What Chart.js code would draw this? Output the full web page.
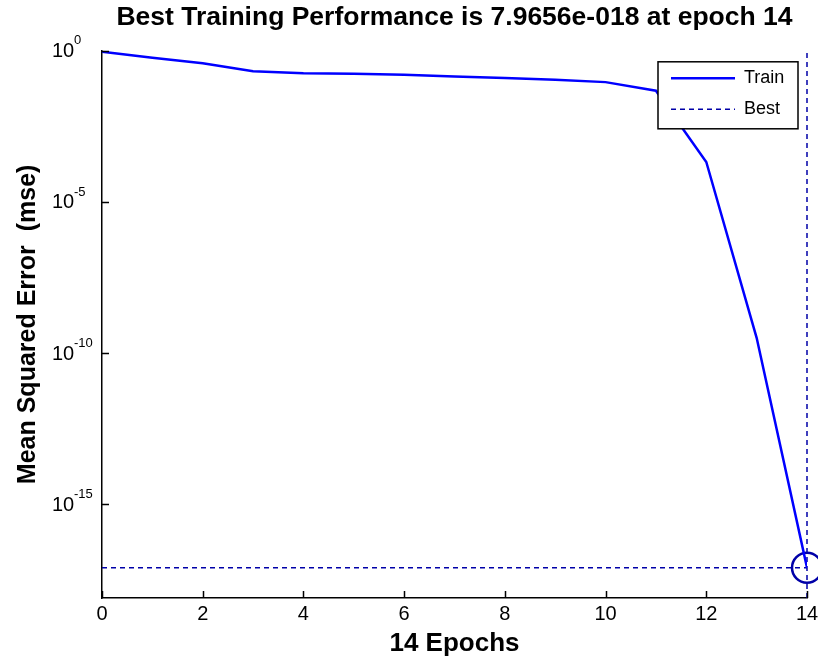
<!DOCTYPE html>
<html>
<head>
<meta charset="utf-8">
<script src="https://cdn.jsdelivr.net/npm/chart.js@4.4.1/dist/chart.umd.min.js"></script>
<style>
  html, body { margin: 0; padding: 0; background: #fff; }
  #wrap { width: 818px; height: 657px; }
</style>
</head>
<body>
<div id="wrap"><canvas id="perfChart" width="818" height="657"></canvas></div>
<script>
// values
const epochs = [0, 1, 2, 3, 4, 5, 6, 7, 8, 9, 10, 11, 12, 13, 14];
const trainMse = [0.93, 0.59, 0.39, 0.21, 0.18, 0.174, 0.16, 0.14, 0.125, 0.11, 0.092, 0.048, 2.1e-4, 3.2e-10, 7.9656e-18];
const bestEpoch = 14;
const bestMse = 7.9656e-18;
const xTickValues = [0, 2, 4, 6, 8, 10, 12, 14];
const yTickExponents = [0, -5, -10, -15];
const yMin = 7.9e-19;
const yMax = 1;

const FONT = "'Liberation Sans', Arial, sans-serif";
const BEST_COLOR = '#0000A8';

// MATLAB-style decade labels, inward tick marks and the boxed legend
const matlabAxes = {
  id: 'matlabAxes',
  afterDatasetsDraw(chart) {
    const ctx = chart.ctx;
    const xs = chart.scales.x, ys = chart.scales.y;
    const area = chart.chartArea;
    ctx.save();
    ctx.strokeStyle = '#000';
    ctx.lineWidth = 1.5;
    ctx.beginPath();
    xTickValues.forEach(v => {
      const px = Math.round(xs.getPixelForValue(v)) + 0.5;
      ctx.moveTo(px, area.bottom);
      ctx.lineTo(px, area.bottom - 7);
    });
    yTickExponents.forEach(e => {
      const py = Math.round(ys.getPixelForValue(Math.pow(10, e))) + 0.5;
      ctx.moveTo(area.left, py);
      ctx.lineTo(area.left + 7, py);
    });
    ctx.stroke();

    // tick labels 10^n
    ctx.fillStyle = '#000';
    ctx.textAlign = 'left';
    yTickExponents.forEach(e => {
      const py = ys.getPixelForValue(Math.pow(10, e));
      ctx.font = '20px ' + FONT;
      ctx.textBaseline = 'middle';
      ctx.fillText('10', 52, py + 1);
      ctx.font = '13px ' + FONT;
      ctx.fillText(String(e), 74, py - 10);
    });

    // legend box
    const ds = chart.data.datasets;
    const bx = area.right - 149, by = area.top + 11, bw = 140, bh = 67;
    ctx.fillStyle = '#fff';
    ctx.fillRect(bx, by, bw, bh);
    ctx.strokeStyle = '#000';
    ctx.lineWidth = 1.5;
    ctx.strokeRect(bx, by, bw, bh);
    [ds[0], ds[1]].forEach((d, i) => {
      const ly = by + 16.5 + i * 31;
      ctx.beginPath();
      ctx.strokeStyle = d.borderColor;
      ctx.lineWidth = d.borderWidth;
      ctx.setLineDash(d.borderDash || []);
      ctx.moveTo(bx + 13, ly);
      ctx.lineTo(bx + 77, ly);
      ctx.stroke();
      ctx.setLineDash([]);
      ctx.fillStyle = '#000';
      ctx.font = '18px ' + FONT;
      ctx.textBaseline = 'middle';
      ctx.fillText(d.label, bx + 86, ly);
    });
    ctx.restore();
  }
};

const ctx = document.getElementById('perfChart').getContext('2d');
new Chart(ctx, {
  type: 'line',
  data: {
    datasets: [
      {
        label: 'Train',
        data: epochs.map((e, i) => ({ x: e, y: trainMse[i] })),
        borderColor: '#0000FF',
        borderWidth: 2.5,
        pointRadius: 0,
        order: 0
      },
      {
        label: 'Best',
        data: [{ x: epochs[0], y: bestMse }, { x: bestEpoch, y: bestMse }],
        borderColor: BEST_COLOR,
        borderWidth: 1.5,
        borderDash: [5, 4],
        pointRadius: 0,
        order: 1
      },
      {
        label: 'Best epoch',
        data: [{ x: bestEpoch, y: yMin }, { x: bestEpoch, y: yMax }],
        borderColor: BEST_COLOR,
        borderWidth: 1.5,
        borderDash: [5, 4],
        pointRadius: 0,
        clip: false,
        order: 2
      },
      {
        label: 'Best point',
        data: [{ x: bestEpoch, y: bestMse }],
        showLine: false,
        borderColor: BEST_COLOR,
        backgroundColor: 'rgba(0,0,0,0)',
        borderWidth: 2.5,
        pointRadius: 15,
        clip: false,
        order: 3
      }
    ]
  },
  options: {
    responsive: false,
    animation: false,
    layout: { autoPadding: false, padding: { left: 0, right: 11, top: 0, bottom: 0 } },
    scales: {
      x: {
        type: 'linear',
        min: 0,
        max: 14,
        afterBuildTicks: s => { s.ticks = xTickValues.map(v => ({ value: v })); },
        afterFit: s => { s.height = 59; s.paddingLeft = 0; s.paddingRight = 0; },
        ticks: { color: '#000', font: { family: FONT, size: 20 }, padding: 4, maxRotation: 0, autoSkip: false },
        grid: { display: false, drawTicks: false },
        border: { display: true, color: '#000', width: 1.5 },
        title: {
          display: true, text: '14 Epochs', color: '#000',
          font: { family: FONT, size: 26, weight: 'bold', lineHeight: 1 },
          padding: { top: 0, bottom: 0 }
        }
      },
      y: {
        type: 'logarithmic',
        min: yMin,
        max: yMax,
        afterBuildTicks: s => { s.ticks = yTickExponents.map(e => ({ value: Math.pow(10, e) })); },
        afterFit: s => { s.width = 102; s.paddingTop = 0; s.paddingBottom = 0; },
        ticks: { display: false },
        grid: { display: false, drawTicks: false },
        border: { display: true, color: '#000', width: 1.5 },
        title: {
          display: true, text: 'Mean Squared Error  (mse)', color: '#000',
          font: { family: FONT, size: 25, weight: 'bold', lineHeight: 1 },
          padding: { top: 16, bottom: 0 }
        }
      }
    },
    plugins: {
      legend: { display: false },
      tooltip: { enabled: false },
      title: {
        display: true,
        fullSize: false,
        text: 'Best Training Performance is 7.9656e-018 at epoch 14',
        color: '#000',
        font: { family: FONT, size: 26.5, weight: 'bold', lineHeight: 1.2 },
        padding: { top: 2, bottom: 17 }
      }
    }
  },
  plugins: [matlabAxes]
});
</script>
</body>
</html>
